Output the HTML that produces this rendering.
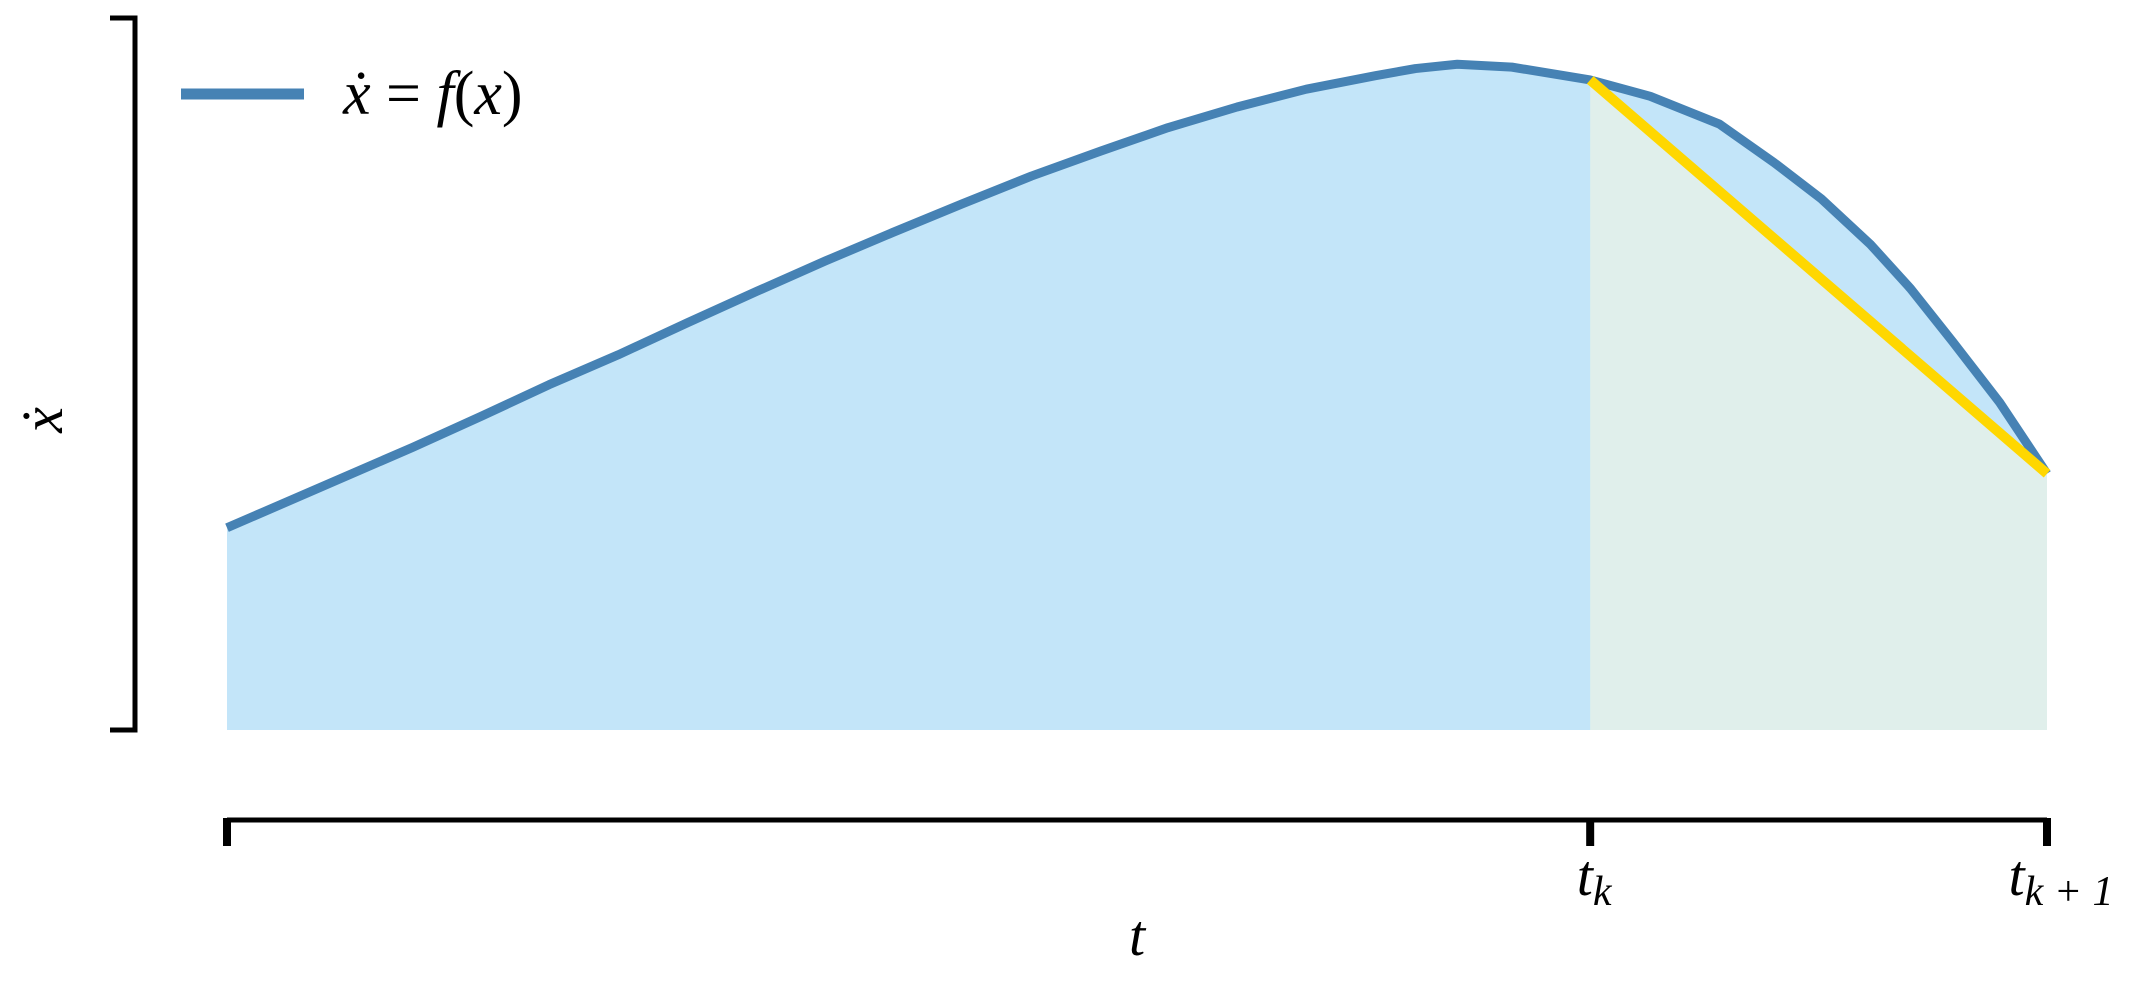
<!DOCTYPE html>
<html><head><meta charset="utf-8"><style>
html,body{margin:0;padding:0;background:#fff;}
svg{display:block;}
text{font-family:"Liberation Serif",serif;font-style:italic;fill:#000;}
</style></head><body>
<svg id="chart" width="2156" height="988" viewBox="0 0 2156 988" xmlns="http://www.w3.org/2000/svg">
<g id="plot"></g>
<g>
<path d="M110 18 H135 V730 H110" fill="none" stroke="#000" stroke-width="5"/>
<text x="0" y="0" font-size="58" transform="translate(62,420) rotate(-90)" text-anchor="middle">ẋ</text>
</g>
<g>
<line x1="227" y1="820" x2="2047" y2="820" stroke="#000" stroke-width="5"/>
<g id="xticks"></g>
<text x="1137" y="955" font-size="58" text-anchor="middle">t</text>
</g>
<g>
<line x1="181" y1="94" x2="304" y2="94" stroke="#4682b4" stroke-width="11"/>
<text x="343" y="114" font-size="62">ẋ <tspan font-style="normal">=</tspan> f<tspan font-style="normal">(</tspan>x<tspan font-style="normal">)</tspan></text>
</g>
</svg>
<script>
const tValues=[0,0.102,0.140,0.177,0.215,0.253,0.291,0.329,0.366,0.404,0.442,0.48,0.517,0.555,0.593,0.631,0.653,0.676,0.706,0.749,0.782,0.82,0.85,0.876,0.903,0.925,0.948,0.974,1];
const xdotValues=[2.84,3.97,4.41,4.85,5.27,5.72,6.16,6.59,6.99,7.39,7.78,8.13,8.46,8.75,9.0,9.19,9.29,9.35,9.31,9.13,8.9,8.51,7.97,7.46,6.82,6.2,5.46,4.6,3.6];
const tickT=[0,0.749,1];
const tickLabels=["","t_k","t_k+1"];
const tk=0.749;
const NS="http://www.w3.org/2000/svg";
function xs(t){return 227+t*1820;}
function ys(v){return 730-v*71.2;}
const plot=document.getElementById('plot');
function mk(tag,attrs){const e=document.createElementNS(NS,tag);for(const k in attrs)e.setAttribute(k,attrs[k]);return e;}
let pts=tValues.map((t,i)=>xs(t)+","+ys(xdotValues[i]));
const area=mk('polygon',{points:xs(0)+","+ys(0)+" "+pts.join(" ")+" "+xs(1)+","+ys(0),fill:"#c3e5f9"});


plot.appendChild(area);
const ik=tValues.indexOf(tk);
const y0=xdotValues[ik], y1=xdotValues[xdotValues.length-1];
const trap=mk('polygon',{points:[xs(tk)+","+ys(0),xs(tk)+","+ys(y0),xs(1)+","+ys(y1),xs(1)+","+ys(0)].join(" "),fill:"#e0efeb"});


plot.appendChild(trap);
const curve=mk('polyline',{points:pts.join(" "),fill:"none",stroke:"#4682b4","stroke-width":9,"stroke-linejoin":"round"});


plot.appendChild(curve);
const chord=mk('line',{x1:xs(tk),y1:ys(y0),x2:xs(1),y2:ys(y1),stroke:"#ffd700","stroke-width":10});


plot.appendChild(chord);
const xt=document.getElementById('xticks');
tickT.forEach((t,i)=>{
  const l=mk('line',{x1:xs(t),y1:818,x2:xs(t),y2:846,stroke:"#000","stroke-width":8});
  
  
  xt.appendChild(l);
  if(tickLabels[i]){
    const parts=tickLabels[i].split("_");
    const tx=mk('text',{x:xs(t)+(i==2?14:4),y:895,"font-size":58,"text-anchor":"middle"});
    
    
    tx.textContent=parts[0];
    const sub=mk('tspan',{"font-size":42,dy:10});
    sub.textContent=parts[1].replace("+"," + ");
    tx.appendChild(sub);
    xt.appendChild(tx);
  }
});
</script>
</body></html>
